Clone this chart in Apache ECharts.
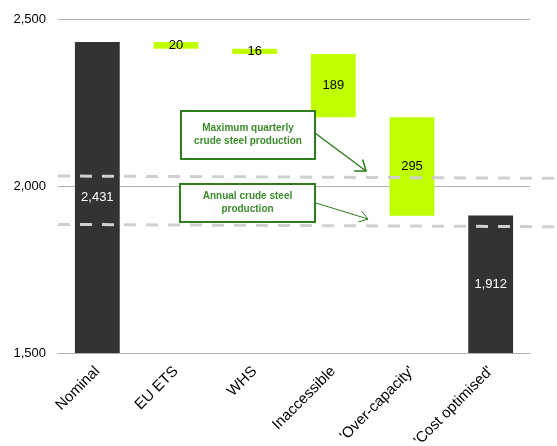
<!DOCTYPE html>
<html>
<head>
<meta charset="utf-8">
<script src="https://cdn.jsdelivr.net/npm/echarts@6/dist/echarts.min.js"></script>
<style>
  html, body { margin: 0; padding: 0; background: #fff; }
  #chart { width: 557px; height: 446px; }
</style>
</head>
<body>
<div id="chart"></div>
<script>
var categories = ['Nominal', 'EU ETS', 'WHS', 'Inaccessible', "'Over-capacity'", "'Cost optimised'"];
// first and last are totals, the rest are reductions
var steps = [2431, -20, -16, -189, -295, 1912];
var isTotal = [true, false, false, false, false, true];
var yTicks = [1500, 2000, 2500];
// reference levels drawn as dashed lines (left end, right end)
var quarterlyLevel = [2030, 2023];
var annualLevel = [1885, 1878];

var FONT = '"Liberation Sans", Arial, sans-serif';
var GREEN = '#bfff00';
var DARK = '#333333';

var baseData = [], deltaData = [], totalData = [];
var running = 0;
steps.forEach(function (v, i) {
  if (isTotal[i]) {
    running = v;
    totalData.push(v);
    baseData.push('-');
    deltaData.push('-');
  } else {
    running = running + v;
    baseData.push(running);
    deltaData.push(-v);
    totalData.push('-');
  }
});

var chart = echarts.init(document.getElementById('chart'));

function arrow(x1, y1, x2, y2, w, len, spread) {
  var a = Math.atan2(y1 - y2, x1 - x2);
  var p1 = [x2 + len * Math.cos(a + spread), y2 + len * Math.sin(a + spread)];
  var p2 = [x2 + len * Math.cos(a - spread), y2 + len * Math.sin(a - spread)];
  var st = { stroke: '#2e7d1e', lineWidth: w };
  return [
    { type: 'line', shape: { x1: x1, y1: y1, x2: x2, y2: y2 }, style: st, z: 20 },
    { type: 'polyline', shape: { points: [p1, [x2, y2], p2] }, style: st, z: 20 }
  ];
}

function box(x, y, w, h, text) {
  return [
    { type: 'rect', shape: { x: x, y: y, width: w, height: h },
      style: { fill: '#fff', stroke: '#2e7d1e', lineWidth: 2 }, z: 20 },
    { type: 'text', x: x + w / 2, y: y + h / 2, z: 21,
      style: { text: text, fill: '#3c8c2c', font: 'bold 10px ' + FONT,
        align: 'center', verticalAlign: 'middle', lineHeight: 13 } }
  ];
}

var graphics = []
  .concat(box(181, 111, 134, 48, 'Maximum quarterly\ncrude steel production'))
  .concat(box(180, 184, 135, 38, 'Annual crude steel\nproduction'))
  .concat(arrow(315, 133, 366, 171, 1.5, 12, 0.65))
  .concat(arrow(316, 203, 368, 219, 1, 10, 0.6));

var yRange = { min: yTicks[0], max: yTicks[yTicks.length - 1] };

chart.setOption({
  animation: false,
  textStyle: { fontFamily: FONT },
  grid: [
    { left: 58, right: 27, top: 19, bottom: 93, outerBoundsMode: 'none', containLabel: false },
    // wider grid so the dashed levels run to the right edge
    { left: 58, right: 0, top: 19, bottom: 93, outerBoundsMode: 'none', containLabel: false }
  ],
  xAxis: [{
    type: 'category',
    data: categories,
    axisTick: { show: false },
    axisLine: { lineStyle: { color: '#b0b0b0', width: 1 } },
    axisLabel: { rotate: 45, color: '#000', fontSize: 15, margin: 16, interval: 0 }
  }, {
    gridIndex: 1, type: 'value', show: false, min: 0, max: 1
  }],
  yAxis: [{
    type: 'value',
    min: yRange.min,
    max: yRange.max,
    interval: yTicks[1] - yTicks[0],
    axisLine: { show: false },
    axisTick: { show: false },
    splitLine: { lineStyle: { color: '#b0b0b0', width: 1 } },
    axisLabel: {
      color: '#000', fontSize: 13, margin: 12,
      formatter: function (v) { return v.toLocaleString('en-US'); }
    }
  }, {
    gridIndex: 1, type: 'value', show: false, min: yRange.min, max: yRange.max
  }],
  series: [{
    name: 'base', type: 'bar', stack: 'w', data: baseData,
    barWidth: '57%', barGap: '-100%',
    itemStyle: { color: 'transparent' }, silent: true
  }, {
    name: 'change', type: 'bar', stack: 'w', data: deltaData,
    barWidth: '57%', barGap: '-100%',
    itemStyle: { color: GREEN },
    label: { show: true, position: 'inside', color: '#000', fontSize: 13 }
  }, {
    name: 'total', type: 'bar', data: totalData,
    barWidth: '57%', barGap: '-100%',
    itemStyle: { color: DARK },
    label: {
      show: true, position: 'inside', color: '#fff', fontSize: 13,
      formatter: function (p) { return p.value.toLocaleString('en-US'); }
    }
  }, {
    name: 'quarterly', type: 'line', xAxisIndex: 1, yAxisIndex: 1, silent: true,
    symbol: 'none', z: 10,
    lineStyle: { color: '#cfcfcf', width: 3, type: [12, 10] },
    data: [[0, quarterlyLevel[0]], [1, quarterlyLevel[1]]]
  }, {
    name: 'annual', type: 'line', xAxisIndex: 1, yAxisIndex: 1, silent: true,
    symbol: 'none', z: 10,
    lineStyle: { color: '#cfcfcf', width: 3, type: [12, 10] },
    data: [[0, annualLevel[0]], [1, annualLevel[1]]]
  }],
  graphic: graphics
});
</script>
</body>
</html>
